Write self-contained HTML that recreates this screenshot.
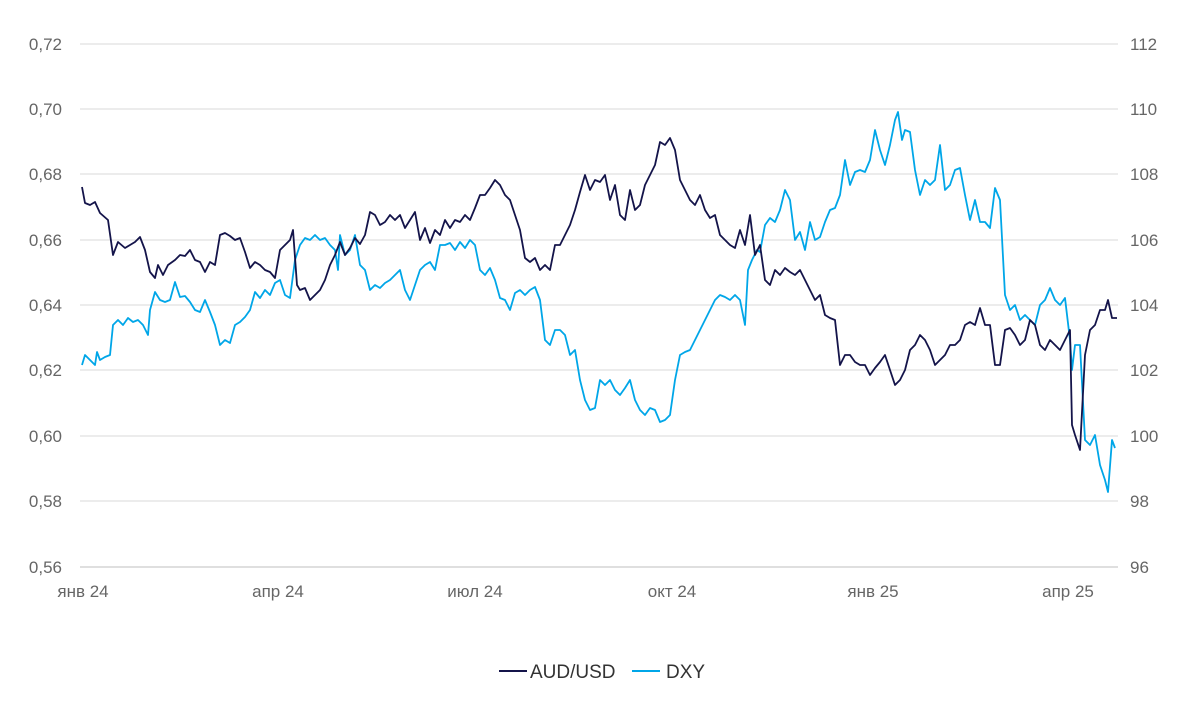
<!DOCTYPE html>
<html><head><meta charset="utf-8"><style>
body{margin:0;background:#fff;}
svg text{font-family:"Liberation Sans",sans-serif;font-size:17px;fill:#666;}
</style></head><body>
<svg width="1200" height="696" xmlns="http://www.w3.org/2000/svg">
<g stroke="#d9d9d9" stroke-width="1">
<line x1="80" y1="44" x2="1118" y2="44"/><line x1="80" y1="109" x2="1118" y2="109"/>
<line x1="80" y1="174" x2="1118" y2="174"/><line x1="80" y1="240" x2="1118" y2="240"/>
<line x1="80" y1="305" x2="1118" y2="305"/><line x1="80" y1="370" x2="1118" y2="370"/>
<line x1="80" y1="436" x2="1118" y2="436"/><line x1="80" y1="501" x2="1118" y2="501"/>
</g>
<line x1="80" y1="567" x2="1118" y2="567" stroke="#bfbfbf"/>
<g text-anchor="end">
<text x="62" y="50">0,72</text><text x="62" y="115">0,70</text><text x="62" y="180">0,68</text>
<text x="62" y="246">0,66</text><text x="62" y="311">0,64</text><text x="62" y="376">0,62</text>
<text x="62" y="442">0,60</text><text x="62" y="507">0,58</text><text x="62" y="573">0,56</text>
</g>
<g text-anchor="start">
<text x="1130" y="50">112</text><text x="1130" y="115">110</text><text x="1130" y="180">108</text>
<text x="1130" y="246">106</text><text x="1130" y="311">104</text><text x="1130" y="376">102</text>
<text x="1130" y="442">100</text><text x="1130" y="507">98</text><text x="1130" y="573">96</text>
</g>
<g text-anchor="middle">
<text x="83" y="597">янв 24</text><text x="278" y="597">апр 24</text><text x="475" y="597">июл 24</text>
<text x="672" y="597">окт 24</text><text x="873" y="597">янв 25</text><text x="1068" y="597">апр 25</text>
</g>
<polyline fill="none" stroke="#00a6e8" stroke-width="1.8" stroke-linejoin="round" points="82,365 85,355 90,360 95,365 97,352 100,360 105,357 110,355 113,325 118,320 123,325 128,318 133,322 138,320 143,325 148,335 150,310 155,292 160,300 165,302 170,300 175,282 180,297 185,296 190,302 195,310 200,312 205,300 210,312 215,325 220,345 225,340 230,343 235,325 240,322 245,317 250,310 255,292 260,298 265,290 270,295 275,283 280,280 285,295 290,298 295,260 300,245 305,238 310,240 315,235 320,240 325,238 330,245 335,250 338,270 340,235 345,255 350,250 355,235 360,265 365,270 370,290 375,285 380,288 385,283 390,280 395,275 400,270 405,290 410,300 415,285 420,270 425,265 430,262 435,270 440,245 445,245 450,243 455,250 460,242 465,248 470,240 475,245 480,270 485,275 490,268 495,280 500,298 505,300 510,310 515,293 520,290 525,295 530,290 535,287 540,300 545,340 550,345 555,330 560,330 565,335 570,355 575,350 580,380 585,400 590,410 595,408 600,380 605,385 610,380 615,390 620,395 625,388 630,380 635,400 640,410 645,415 650,408 655,410 660,422 665,420 670,415 675,380 680,355 685,352 690,350 695,340 700,330 705,320 710,310 715,300 720,295 725,297 730,300 735,295 740,300 745,325 748,270 752,260 757,250 760,252 765,225 770,218 775,222 780,210 785,190 790,200 795,240 800,232 805,250 810,222 815,240 820,237 825,222 830,210 835,208 840,195 845,160 850,185 855,172 860,170 865,172 870,160 875,130 880,150 885,165 890,145 895,120 898,112 902,140 905,130 910,132 915,170 920,195 925,180 930,185 935,180 940,145 945,190 950,185 955,170 960,168 965,195 970,220 975,200 980,222 985,222 990,228 995,188 1000,200 1005,295 1010,310 1015,305 1020,320 1025,315 1030,320 1035,325 1040,305 1045,300 1050,288 1055,300 1060,305 1065,298 1070,340 1072,370 1075,345 1080,345 1085,440 1090,445 1095,435 1100,465 1105,480 1108,492 1112,440 1115,448"/>
<polyline fill="none" stroke="#14144a" stroke-width="1.8" stroke-linejoin="round" points="82,187 85,203 90,205 95,202 100,213 108,220 113,255 118,242 125,248 130,245 135,242 140,237 145,250 150,272 155,278 158,265 163,275 168,265 175,260 180,255 185,256 190,250 195,260 200,262 205,272 210,262 215,265 220,235 225,233 230,236 235,240 240,238 245,252 250,268 255,262 260,265 265,270 270,272 275,278 280,250 285,245 290,240 293,230 297,285 300,290 305,288 310,300 315,295 320,290 325,280 330,265 335,255 340,242 345,255 350,248 355,238 360,244 365,235 370,212 375,215 380,225 385,222 390,215 395,220 400,215 405,228 410,220 415,212 420,240 425,228 430,243 435,230 440,235 445,220 450,228 455,220 460,222 465,215 470,220 475,208 480,195 485,195 490,188 495,180 500,185 505,195 510,200 515,215 520,230 525,258 530,262 535,258 540,270 545,265 550,270 555,245 560,245 565,235 570,225 575,210 580,192 585,175 590,190 595,180 600,182 605,175 610,200 615,185 620,215 625,220 630,190 635,210 640,205 645,185 650,175 655,165 660,142 665,145 670,138 675,150 680,180 685,190 690,200 695,205 700,195 705,210 710,218 715,215 720,235 725,240 730,245 735,248 740,230 745,245 750,215 755,255 760,245 765,280 770,285 775,270 780,275 785,268 790,272 795,275 800,270 805,280 810,290 815,300 820,295 825,315 830,318 835,320 840,365 845,355 850,355 855,362 860,365 865,365 870,375 875,368 880,362 885,355 890,370 895,385 900,380 905,370 910,350 915,345 920,335 925,340 930,350 935,365 940,360 945,355 950,345 955,345 960,340 965,325 970,322 975,325 980,308 985,325 990,325 995,365 1000,365 1005,330 1010,328 1015,335 1020,345 1025,340 1030,320 1035,325 1040,345 1045,350 1050,340 1055,345 1060,350 1065,340 1070,330 1072,425 1075,435 1080,450 1085,355 1090,330 1095,325 1100,310 1105,310 1108,300 1112,318 1117,318"/>
<line x1="499" y1="671" x2="527" y2="671" stroke="#14144a" stroke-width="2"/>
<text x="530" y="678" style="fill:#333;font-size:19px">AUD/USD</text>
<line x1="632" y1="671" x2="660" y2="671" stroke="#00a6e8" stroke-width="2"/>
<text x="666" y="678" style="fill:#333;font-size:19px">DXY</text>
</svg>
</body></html>
